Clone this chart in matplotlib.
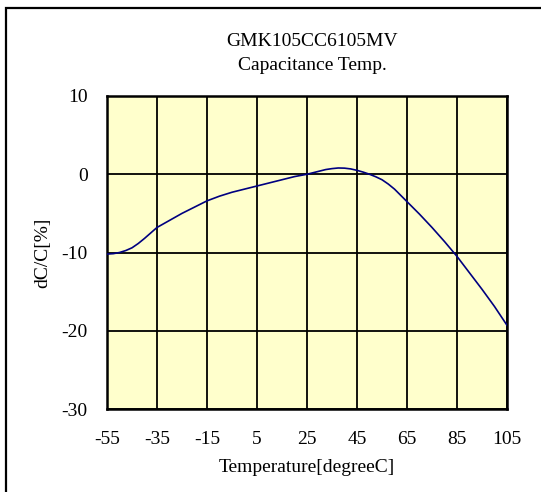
import matplotlib
matplotlib.use("Agg")
import matplotlib.pyplot as plt
from matplotlib.patches import Rectangle

# temperature [degC] and capacitance change [%]
temperatura = [-55, -52.5, -50, -47.5, -45, -42.5, -40, -37.5, -35, -30, -25, -20, -15, -10, -5, 0, 5, 10,
               15, 20, 25, 30, 32.5, 35, 37.5, 40, 42.5, 45, 47.5, 50, 52.5, 55, 57.5, 60, 65, 70,
               75, 80, 85, 90, 95, 100, 105]
dC = [-10.2, -10.15, -10.0, -9.75, -9.4, -8.85, -8.2, -7.5, -6.8, -5.9, -5.0, -4.2, -3.4, -2.8, -2.3, -1.9,
      -1.5, -1.1, -0.7, -0.3, 0.0, 0.4, 0.6, 0.72, 0.8, 0.78, 0.68, 0.5, 0.27, 0.0, -0.32, -0.7, -1.25,
      -1.9, -3.5, -5.1, -6.8, -8.6, -10.5, -12.6, -14.7, -16.9, -19.3]

x_ticks = [-55, -35, -15, 5, 25, 45, 65, 85, 105]
y_ticks = [-30, -20, -10, 0, 10]

plt.rcParams['font.family'] = ['Liberation Serif', 'DejaVu Serif']
plt.rcParams['axes.unicode_minus'] = False

W, H = 541, 492
fig = plt.figure(figsize=(W / 100, H / 100), dpi=100)
ax = fig.add_axes([107 / W, 1 - 409 / H, 400 / W, 313 / H])

# outer frame
fig.patches.append(Rectangle((6 / W, -0.01), 1.0, 1 - 8 / H + 0.01, transform=fig.transFigure,
                             fill=False, edgecolor='black', linewidth=1.6))

ax.set_facecolor('#FFFFCC')
ax.plot(temperatura, dC, color='#000080', linewidth=1.2, zorder=3)

ax.set_xlim(-55, 105)
ax.set_ylim(-30, 10)
ax.set_xticks(x_ticks)
ax.set_yticks(y_ticks)
ax.grid(True, color='black', linewidth=1.3, zorder=1)
ax.set_axisbelow(True)
ax.tick_params(length=0, labelsize=14)
ax.tick_params(axis='x', pad=16)
ax.tick_params(axis='y', pad=14)
for s in ax.spines.values():
    s.set_linewidth(1.8)

ax.set_xlabel('Temperature[degreeC]', fontsize=14, labelpad=8)
ax.set_ylabel('dC/C[%]', fontsize=14, labelpad=7)

fig.text(312 / W, 1 - 42 / H, 'GMK105CC6105MV', ha='center', va='center', fontsize=14)
fig.text(312 / W, 1 - 65 / H, 'Capacitance Temp.', ha='center', va='center', fontsize=14)

fig.savefig('out.png', dpi=100)
